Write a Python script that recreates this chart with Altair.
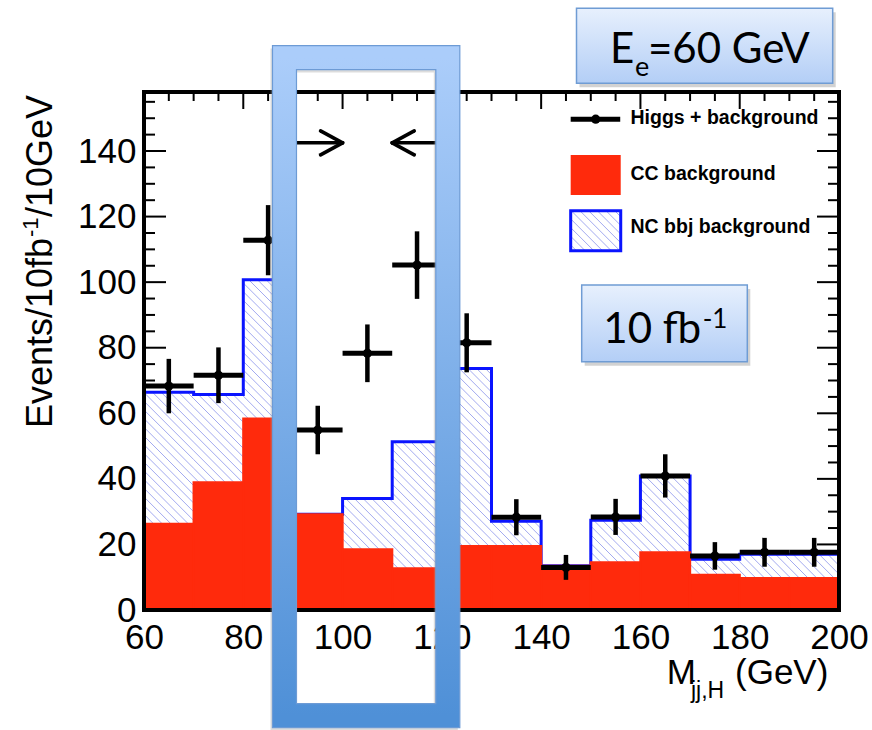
import math
import altair as alt
import pandas as pd

# ---------------- values ----------------
bin_low  = [60, 70, 80, 90, 100, 110, 120, 130, 140, 150, 160, 170, 180, 190]
bin_high = [70, 80, 90, 100, 110, 120, 130, 140, 150, 160, 170, 180, 190, 200]
cc_background     = [26.3, 38.9, 58.4, 29.2, 18.5, 12.7, 19.5, 19.5, 13.5, 14.5, 17.6, 10.7, 9.7, 9.7]
nc_bbj_background = [40.1, 26.8, 42.3, 0.0, 15.5, 38.6, 54.2, 7.6, 0.0, 12.9, 23.3, 4.8, 7.3, 7.3]
higgs_plus_background = [68.3, 71.6, 112.8, 54.9, 78.3, 105.2, 81.5, 28.3, 13.0, 28.4, 40.9, 16.5, 17.6, 17.6]
higgs_error           = [8.3, 8.5, 10.7, 7.4, 8.8, 10.3, 9.0, 5.5, 3.8, 5.5, 6.6, 4.2, 4.4, 4.4]

x_tick_labels = [60, 80, 100, 120, 140, 160, 180, 200]
y_tick_labels = [0, 20, 40, 60, 80, 100, 120, 140]
x_range = [60, 200]
y_range = [0, 158]

legend_labels = ["Higgs + background", "CC background", "NC bbj background"]
window_arrow_tips = [100, 110]          # GeV
window_arrow_level = 142.5
highlight_box_x = [88.3, 121.2]         # GeV (centre of the frame)
highlight_box_y = [-32.2, 168.5]

# ---------------- layout / style ----------------
W, H = 695, 518
PXX = W / (x_range[1] - x_range[0])
PXY = H / (y_range[1] - y_range[0])
FONT = "Liberation Sans"
BOXFONT = "Lato"
RED = "#ff2a0c"
BLUE = "#0a14ff"
HATCH = "#a3aaf0"

xs = alt.Scale(domain=x_range, nice=False, zero=False)
ys = alt.Scale(domain=y_range, nice=False, zero=False)
x_axis = alt.Axis(values=x_tick_labels, title=None, ticks=False, domain=False, grid=False,
                  labelFont=FONT, labelFontSize=35, labelColor="black", labelPadding=10,
                  labelFlush=False, labelOverlap=False, labelAngle=0)
y_axis = alt.Axis(values=y_tick_labels, title=None, ticks=False, domain=False, grid=False,
                  labelFont=FONT, labelFontSize=35, labelColor="black", labelPadding=8,
                  labelFlush=False, labelOverlap=False)


def enc(x, y, x2=None, y2=None, **kw):
    e = dict(x=alt.X(x, type="quantitative", scale=xs, axis=x_axis),
             y=alt.Y(y, type="quantitative", scale=ys, axis=y_axis))
    if x2:
        e["x2"] = alt.X2(x2)
    if y2:
        e["y2"] = alt.Y2(y2)
    e.update(kw)
    return e


hist = pd.DataFrame(dict(lo=bin_low, hi=bin_high, cc=cc_background, nc=nc_bbj_background,
                         val=higgs_plus_background, err=higgs_error))
hist["zero"] = 0.0
hist["total"] = hist["cc"] + hist["nc"]
hist["mid"] = (hist["lo"] + hist["hi"]) / 2
hist["elo"] = hist["val"] - hist["err"]
hist["ehi"] = hist["val"] + hist["err"]

# step outline of the stacked (NC + CC) histogram
step_rows = [dict(i=0, x=bin_low[0], y=0.0)]
for i, r in hist.iterrows():
    step_rows.append(dict(i=len(step_rows), x=r["lo"], y=r["total"]))
step_rows.append(dict(i=len(step_rows), x=bin_high[-1], y=hist["total"].iloc[-1]))
step_rows.append(dict(i=len(step_rows), x=bin_high[-1], y=0.0))
step = pd.DataFrame(step_rows)


# hatch lines (ROOT style), computed in data units so they are 45 deg on screen
def hatch(x0, x1, ylo, yhi, spacing_px=8.7):
    out = []
    if yhi <= ylo:
        return out
    k = PXX / PXY
    dc = spacing_px / PXY
    cmin = ylo + k * (x0 - x_range[0])
    cmax = yhi + k * (x1 - x_range[0])
    for j in range(math.ceil(cmin / dc), math.floor(cmax / dc) + 1):
        c = j * dc
        xa = max(x0, x_range[0] + (c - yhi) / k)
        xb = min(x1, x_range[0] + (c - ylo) / k)
        if xb > xa:
            out.append(dict(x=xa, y=c - k * (xa - x_range[0]), x2=xb, y2=c - k * (xb - x_range[0])))
    return out


# legend geometry in data units
LEG_X0, LEG_X1 = 145.95, 156.03
LEG_TXT_X = 158.0
LEG_LINE_Y, LEG_RED_Y, LEG_BLUE_Y = 149.7, (126.6, 138.8), (109.6, 121.8)
LEG_TXT_Y = [150.0, 133.0, 116.7]

hatch_rows = []
for _, r in hist.iterrows():
    hatch_rows += hatch(r["lo"], r["hi"], r["cc"], r["total"])
hatch_rows += hatch(LEG_X0, LEG_X1, LEG_BLUE_Y[0], LEG_BLUE_Y[1])
hatch_df = pd.DataFrame(hatch_rows)

# axis ticks (ROOT style, inside the frame)
tick_rows = []
for v in range(y_range[0], y_range[1], 5):
    L = 22 if v % 20 == 0 else 11
    tick_rows.append(dict(x=x_range[0], x2=x_range[0] + L / PXX, y=v, y2=v))
    tick_rows.append(dict(x=x_range[1], x2=x_range[1] - L / PXX, y=v, y2=v))
for v in range(x_range[0] + 5, x_range[1], 5):
    L = 17 if v % 20 == 0 else 9
    tick_rows.append(dict(x=v, x2=v, y=y_range[1], y2=y_range[1] - L / PXY))
    tick_rows.append(dict(x=v, x2=v, y=y_range[0], y2=y_range[0] + L / PXY))
ticks = pd.DataFrame(tick_rows)

# arrows marking the mass window
hx, hy = 22 / PXX, 12 / PXY
ar = window_arrow_level
t1, t2 = window_arrow_tips
arrows = pd.DataFrame([
    dict(x=88.5, x2=t1, y=ar, y2=ar),
    dict(x=t1 - hx, x2=t1, y=ar + hy, y2=ar),
    dict(x=t1 - hx, x2=t1, y=ar - hy, y2=ar),
    dict(x=121.0, x2=t2, y=ar, y2=ar),
    dict(x=t2 + hx, x2=t2, y=ar + hy, y2=ar),
    dict(x=t2 + hx, x2=t2, y=ar - hy, y2=ar),
])

frame = pd.DataFrame([dict(x=x_range[0], x2=x_range[1], y=y_range[0], y2=y_range[1])])

half_x, half_y = 12 / PXX, 12 / PXY
bx0, bx1 = highlight_box_x
by0, by1 = highlight_box_y
box_mid = pd.DataFrame([dict(x=bx0, x2=bx1, y=by0, y2=by1)])
box_out = pd.DataFrame([dict(x=bx0 - half_x, x2=bx1 + half_x, y=by0 - half_y, y2=by1 + half_y)])
box_in = pd.DataFrame([dict(x=bx0 + half_x, x2=bx1 - half_x, y=by0 + half_y, y2=by1 - half_y)])
box_shadow = pd.DataFrame([dict(x=bx0 - 2 / PXX, x2=bx1 - 2 / PXX, y=by0 - 3 / PXY, y2=by1 - 3 / PXY)])

leg = pd.DataFrame([dict(
    lx0=LEG_X0, lx1=LEG_X1 - 0.1, ly=LEG_LINE_Y, dot=(LEG_X0 + LEG_X1) / 2,
    rx0=LEG_X0, rx1=LEG_X1, ry0=LEG_RED_Y[0], ry1=LEG_RED_Y[1],
    bx0=LEG_X0, bx1=LEG_X1, by0=LEG_BLUE_Y[0], by1=LEG_BLUE_Y[1])])
leg_txt = pd.DataFrame(dict(x=[LEG_TXT_X] * 3, y=LEG_TXT_Y, t=legend_labels))

one = pd.DataFrame({"a": [0]})


def grad(c0, c1):
    return {"gradient": "linear", "x1": 0, "y1": 0, "x2": 0, "y2": 1,
            "stops": [{"offset": 0, "color": c0}, {"offset": 1, "color": c1}]}


layers = []
# ticks below the histograms
layers.append(alt.Chart(ticks).mark_rule(color="black", strokeWidth=2).encode(**enc("x", "y", "x2", "y2")))
# NC hatch region
layers.append(alt.Chart(hist).mark_rect(color="white").encode(**enc("lo", "cc", "hi", "total")))
layers.append(alt.Chart(hatch_df).mark_rule(color=HATCH, strokeWidth=1).encode(**enc("x", "y", "x2", "y2")))
# blue outline of the stack
layers.append(alt.Chart(step).mark_line(color=BLUE, strokeWidth=3, interpolate="step-after")
              .encode(**enc("x", "y"), order=alt.Order("i:Q")))
# CC background drawn over the stack outline (as ROOT does)
layers.append(alt.Chart(hist).mark_rect(fill=RED, stroke=RED, strokeWidth=2.2)
              .encode(**enc("lo", "zero", "hi", "cc")))
# Higgs + background points
layers.append(alt.Chart(hist).mark_rule(color="black", strokeWidth=5).encode(**enc("lo", "val", "hi", "val")))
layers.append(alt.Chart(hist).mark_rule(color="black", strokeWidth=4.5).encode(**enc("mid", "elo", None, "ehi")))
layers.append(alt.Chart(hist).mark_point(color="black", filled=True, opacity=1, size=85, shape="circle")
              .encode(**enc("mid", "val")))
# frame
layers.append(alt.Chart(frame).mark_rect(fill="transparent", stroke="black", strokeWidth=4)
              .encode(**enc("x", "y", "x2", "y2")))
# arrows
layers.append(alt.Chart(arrows).mark_rule(color="black", strokeWidth=3.6, strokeCap="round")
              .encode(**enc("x", "y", "x2", "y2")))
# legend
layers.append(alt.Chart(leg).mark_rule(color="black", strokeWidth=5).encode(**enc("lx0", "ly", "lx1", "ly")))
layers.append(alt.Chart(leg).mark_point(color="black", filled=True, opacity=1, size=85, shape="circle")
              .encode(**enc("dot", "ly")))
layers.append(alt.Chart(leg).mark_rect(color=RED).encode(**enc("rx0", "ry0", "rx1", "ry1")))
layers.append(alt.Chart(leg).mark_rect(fill="transparent", stroke=BLUE, strokeWidth=3)
              .encode(**enc("bx0", "by0", "bx1", "by1")))
layers.append(alt.Chart(leg_txt).mark_text(font=FONT, fontSize=19.5, fontWeight="bold", align="left",
                                           baseline="middle", color="black")
              .encode(**enc("x", "y"), text="t:N"))
# highlight box (gradient frame)
layers.append(alt.Chart(box_shadow).mark_rect(fill="transparent", stroke="#9a9a9a", strokeWidth=24,
                                             strokeOpacity=0.35).encode(**enc("x", "y", "x2", "y2")))
layers.append(alt.Chart(box_mid).mark_rect(fill="transparent", stroke=grad("#abcdfa", "#4f90d7"), strokeWidth=24)
              .encode(**enc("x", "y", "x2", "y2")))
layers.append(alt.Chart(box_out).mark_rect(fill="transparent", stroke="#6d9bd5", strokeWidth=1.2)
              .encode(**enc("x", "y", "x2", "y2")))
layers.append(alt.Chart(box_in).mark_rect(fill="transparent", stroke="#6d9bd5", strokeWidth=1.2)
              .encode(**enc("x", "y", "x2", "y2")))


# text boxes (pixel positions relative to the plot area)
def tbox(x0, x1, y0, y1):
    return [
        alt.Chart(one).mark_rect(color="#7f7f7f", opacity=0.35).encode(
            x=alt.value(x0 + 3), x2=alt.value(x1 + 3), y=alt.value(y0 + 4), y2=alt.value(y1 + 4)),
        alt.Chart(one).mark_rect(fill=grad("#e7f0fd", "#b3cef6"), stroke="#6f9cd4", strokeWidth=1.5).encode(
            x=alt.value(x0), x2=alt.value(x1), y=alt.value(y0), y2=alt.value(y1)),
    ]


def txt(s, x, y, size, font=BOXFONT, align="left", angle=0, weight="normal"):
    return alt.Chart(one).mark_text(text=s, font=font, fontSize=size, align=align, baseline="alphabetic",
                                    color="black", angle=angle, fontWeight=weight).encode(
        x=alt.value(x), y=alt.value(y))


layers += tbox(432.5, 688.7, -83.7, -8.7)
layers.append(txt("E", 466.0, -29.0, 42))
layers.append(txt("e", 491.0, -16.0, 27))
layers.append(txt("=60 GeV", 504.0, -29.0, 42))
layers += tbox(437.7, 603.3, 193.0, 269.7)
layers.append(txt("10 fb", 459.3, 251.3, 42))
layers.append(txt("-1", 558.7, 236.0, 26))

# axis titles
layers.append(txt("M", 522.7, 592, 35, font=FONT))
layers.append(txt("jj,H", 547, 606, 23, font=FONT))
layers.append(txt("(GeV)", 591, 592, 35, font=FONT))
layers.append(txt("Events/10fb", -92, 336, 36, font=FONT, angle=270))
layers.append(txt("-1", -106, 145, 22, font=FONT, angle=270))
layers.append(txt("/10GeV", -92, 125, 36, font=FONT, angle=270))

chart = alt.layer(*layers).properties(
    width=W, height=H, background="white",
    padding={"left": 144, "top": 92, "right": 33, "bottom": 120},
    autosize=alt.AutoSizeParams(type="none"),
).configure_view(strokeWidth=0)

chart.save("out.html", embed_options={"renderer": "svg", "actions": False})
